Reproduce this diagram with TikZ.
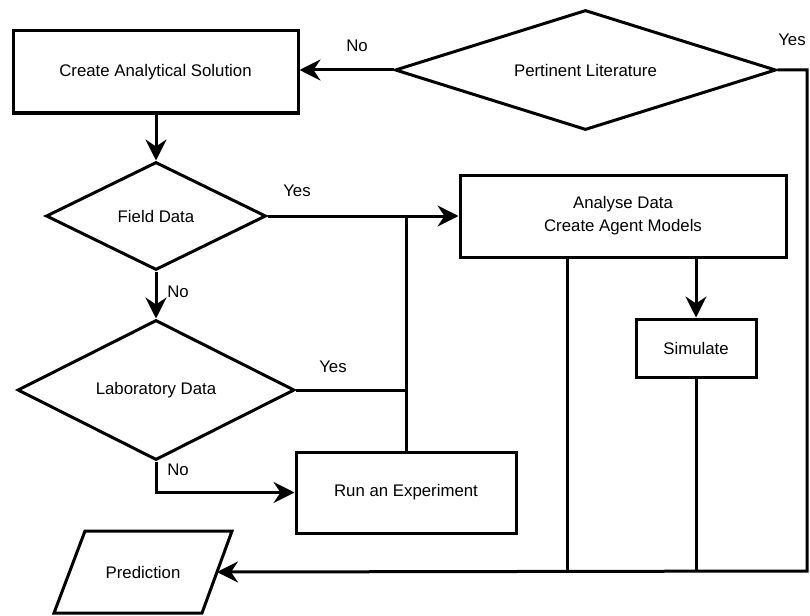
\documentclass[tikz,border=0pt]{standalone}
\usepackage{fontspec}
\setmainfont{Liberation Sans}
\usetikzlibrary{shapes.geometric,arrows.meta}
\begin{document}
\begin{tikzpicture}[x=1pt,y=-1pt,
  every node/.style={font=\fontsize{16.8}{23}\selectfont},
  box/.style={draw,line width=3pt,rectangle,inner sep=0pt,align=center},
  dia/.style={draw,line width=3pt,diamond,inner sep=0pt,aspect=2},
  conn/.style={line width=3pt},
  arr/.style={line width=3pt,-{Stealth[length=21pt,width=21pt,inset=7pt]}},
  lbl/.style={inner sep=0pt}]
\useasboundingbox (0,0) rectangle (810,615);
\node[box,minimum width=285pt,minimum height=82pt] (cas) at (155.5,72) {Create Analytical Solution};
\node[dia,minimum width=381pt,minimum height=120pt] (pert) at (585.5,70) {Pertinent Literature};
\node[dia,minimum width=220pt,minimum height=108pt] (field) at (156,216) {Field Data};
\node[box,minimum width=326pt,minimum height=82pt] (ana) at (623,216) {Analyse Data\\Create Agent Models};
\node[dia,minimum width=277pt,minimum height=140pt] (lab) at (156,390) {Laboratory Data};
\node[box,minimum width=220pt,minimum height=81pt] (run) at (406,492.5) {Run an Experiment};
\node[box,minimum width=120pt,minimum height=58pt] (sim) at (696,348) {Simulate};
% parallelogram for Prediction
\coordinate (p1) at (85,531);
\coordinate (p2) at (232,531);
\coordinate (p3) at (202,613);
\coordinate (p4) at (54,613);
\draw[line width=3pt,line join=miter] (p1) -- (p2) -- (p3) -- (p4) -- cycle;
\node[inner sep=0pt] (pred) at (143,572) {Prediction};
\coordinate (predR) at (217,572);
\coordinate (rtop) at (807,70);
\coordinate (rbot) at (807,571);
\coordinate (c1) at (567,571);
\coordinate (c2) at (696,571);
% connectors
\draw[arr] (pert.west) -- (pert.west -| cas.east);
\draw[arr] (cas.south -| field.north) -- (field.north);
\draw[arr] (field.east) -- (field.east -| ana.west);
\draw[arr] (field.south) -- (lab.north);
\draw[conn] (lab.east) -- (lab.east -| run.north);
\draw[conn] (run.north) -- (run.north |- field.east);
\draw[arr] (lab.south) |- (run.west);
\draw[arr] (ana.south -| sim.north) -- (sim.north);
\draw[conn] (ana.south -| c1) -- (c1);
\draw[conn] (sim.south) -- (c2);
\draw[arr] (pert.east) -- (rtop) -- (rbot) -- (predR);
% labels
\node[lbl] (l1) at (357,46) {No};
\node[lbl] (l2) at (792,40) {Yes};
\node[lbl] (l3) at (297,191) {Yes};
\node[lbl] (l4) at (178,292) {No};
\node[lbl] (l5) at (333,367) {Yes};
\node[lbl] (l6) at (178,470) {No};
\end{tikzpicture}
\end{document}
